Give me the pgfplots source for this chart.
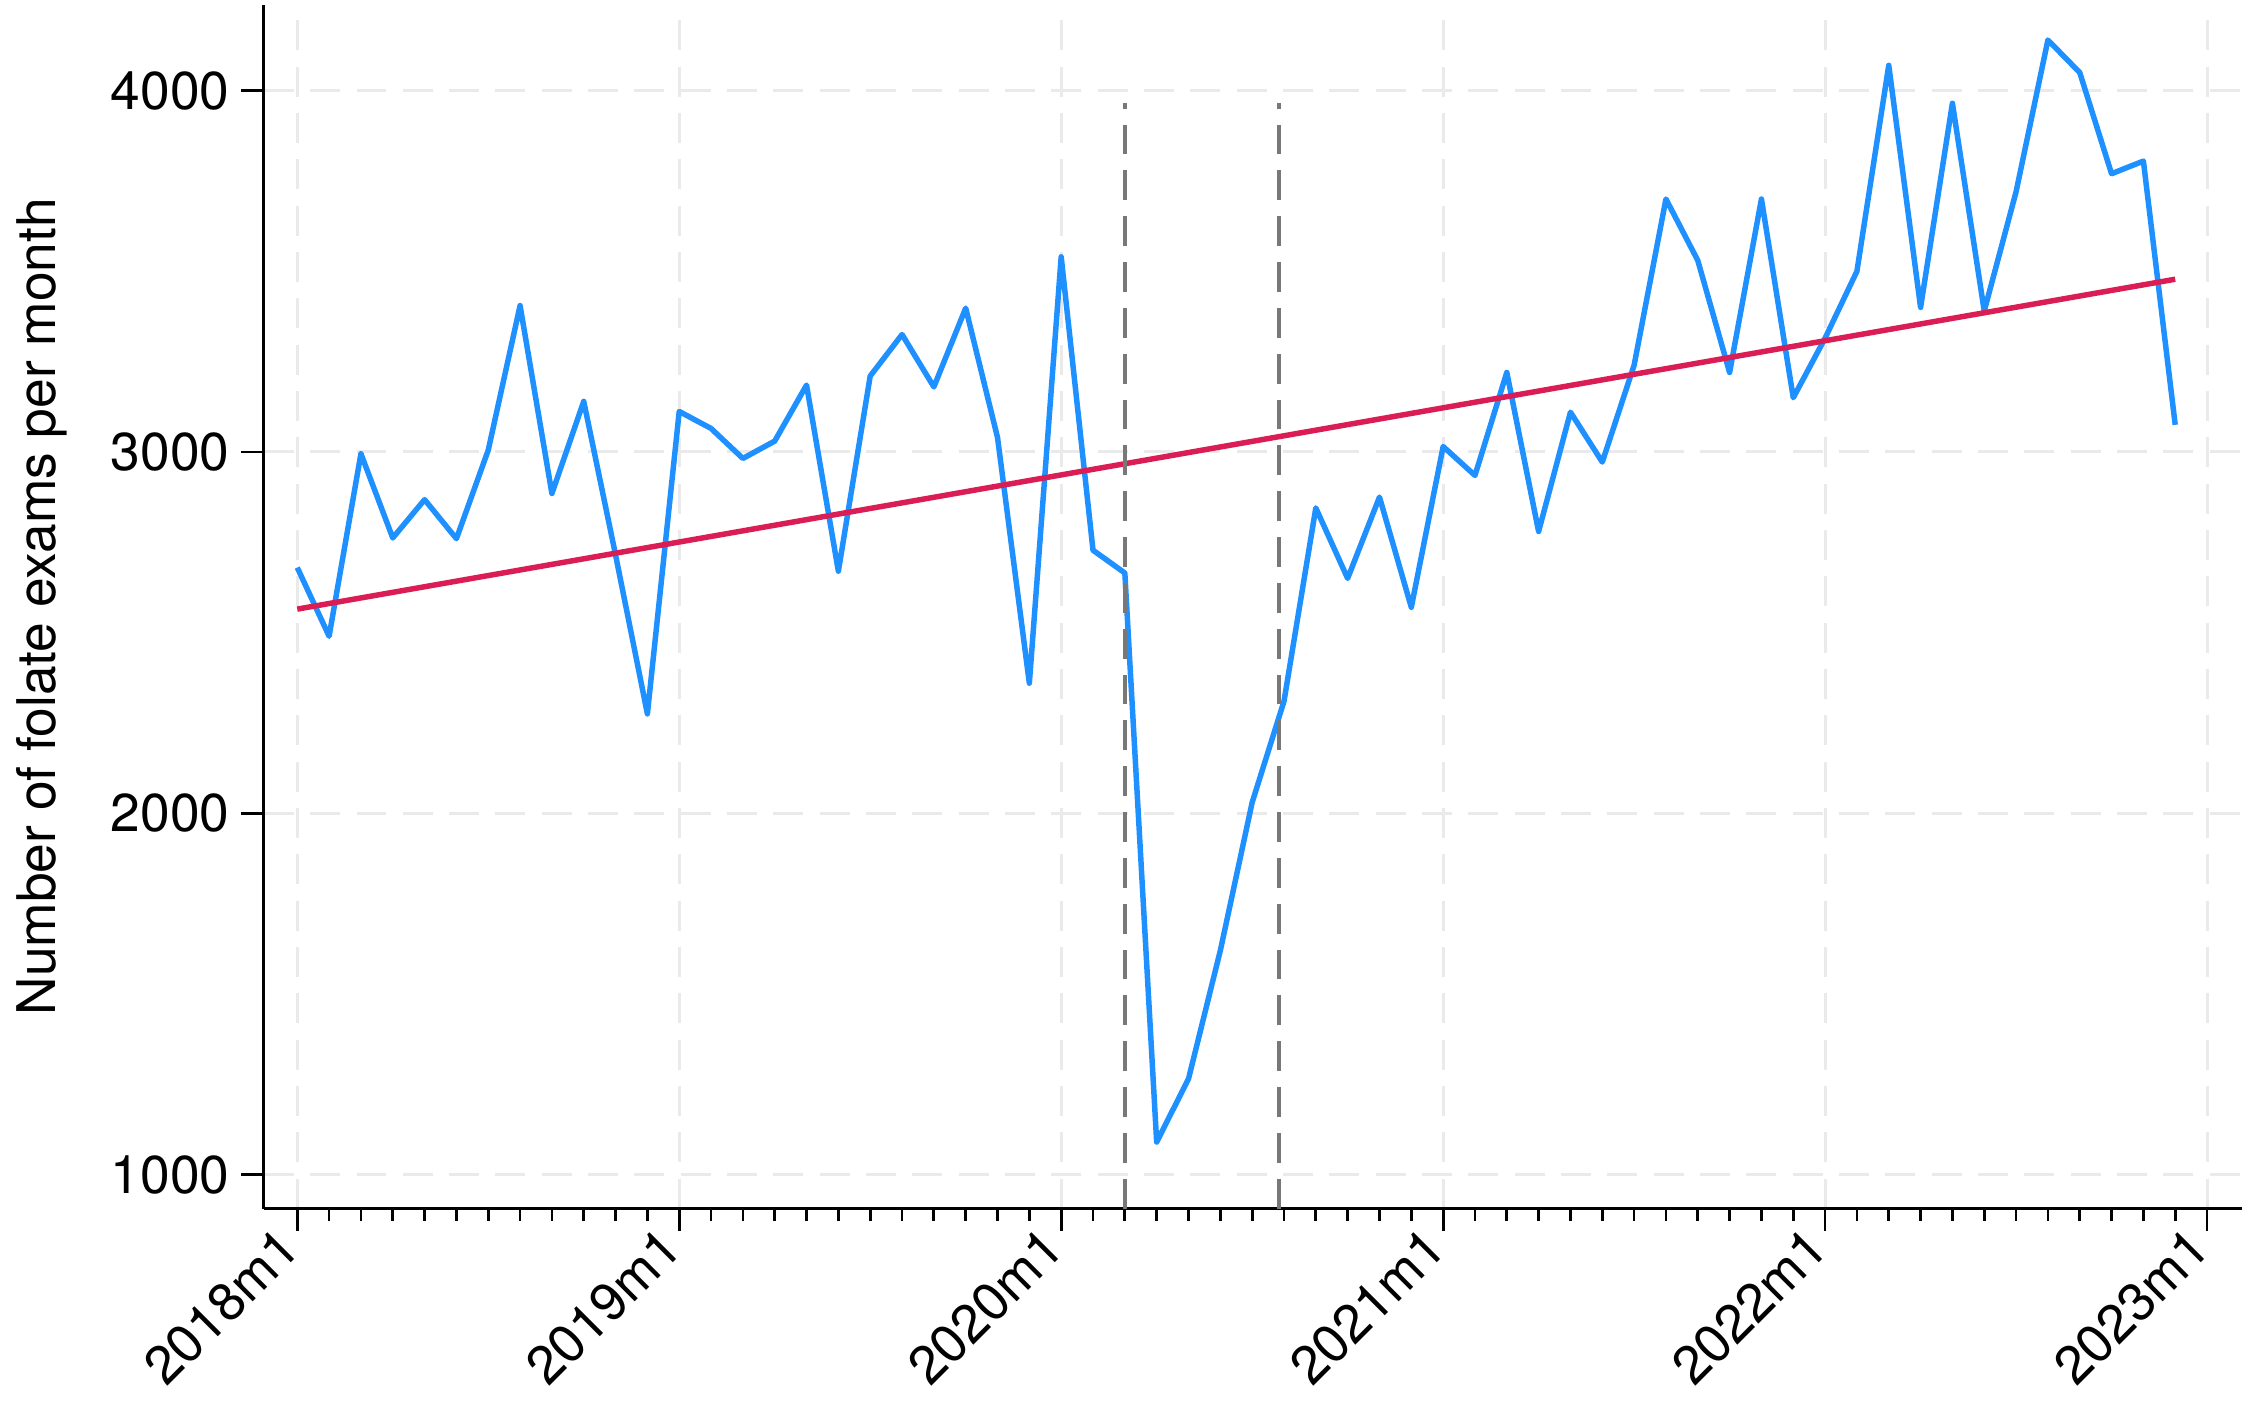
\documentclass[border=0pt]{standalone}
\usepackage{pgfplots}
\pgfplotsset{compat=1.18}
\usepackage{fontspec}
\setmainfont{TeX Gyre Heros}
\definecolor{sblue}{RGB}{30,144,255}
\definecolor{sred}{RGB}{218,30,85}
\definecolor{gridc}{RGB}{234,234,234}
\definecolor{vlinec}{RGB}{120,120,120}
\begin{document}
\begin{tikzpicture}
\begin{axis}[
  width=397.1pt, height=241.6pt, scale only axis,
  xmin=-1.05, xmax=61.1, ymin=906, ymax=4237,
  axis lines=left,
  axis line style={-, line width=0.55pt, black},
  xtick={0,12,24,36,48,60},
  xticklabels={2018m1,2019m1,2020m1,2021m1,2022m1,2023m1},
  minor x tick num=11,
  ytick={1000,2000,3000,4000},
  yticklabels={1000,2000,3000,4000},
  tick align=outside,
  major tick length=4.5pt, minor tick length=2.4pt,
  every tick/.style={black, line width=0.55pt},
  ymajorgrids, xmajorgrids,
  major grid style={gridc, line width=0.6pt, dash pattern=on 6pt off 3.3pt},
  tick label style={font=\fontsize{10.7}{12}\selectfont},
  yticklabel style={inner sep=2.2pt},
  xticklabel style={rotate=45, anchor=east, inner sep=2pt},
  ylabel={Number of folate exams per month},
  every axis y label/.style={at={(axis description cs:0,0.5)}, xshift=-41.8pt, rotate=90, anchor=base, font=\fontsize{10.7}{12}\selectfont},
]
\addplot[sblue, line width=1.1pt, line join=round] coordinates {
(0,2680) (1,2490) (2,2995) (3,2762) (4,2868) (5,2760) (6,3005) (7,3405) (8,2885) (9,3140)
(10,2715) (11,2275) (12,3112) (13,3065) (14,2982) (15,3030) (16,3185) (17,2670) (18,3210) (19,3325)
(20,3180) (21,3398) (22,3040) (23,2360) (24,3540) (25,2728) (26,2665) (27,1090) (28,1265) (29,1620)
(30,2030) (31,2310) (32,2845) (33,2650) (34,2875) (35,2570) (36,3015) (37,2935) (38,3220) (39,2780)
(40,3110) (41,2972) (42,3240) (43,3700) (44,3530) (45,3220) (46,3700) (47,3150) (48,3315) (49,3500)
(50,4070) (51,3400) (52,3965) (53,3390) (54,3720) (55,4140) (56,4050) (57,3770) (58,3805) (59,3075)
};
\addplot[sred, line width=1.1pt] coordinates {(0,2565) (59,3478)};
\addplot[vlinec, line width=0.8pt, dash pattern=on 6pt off 3.2pt] coordinates {(26,906) (26,3965)};
\addplot[vlinec, line width=0.8pt, dash pattern=on 6pt off 3.2pt] coordinates {(30.85,906) (30.85,3965)};
\end{axis}
\path ([xshift=-51.3pt,yshift=-39.6pt]current axis.south west) rectangle ([xshift=1.6pt,yshift=1pt]current axis.north east);
\end{tikzpicture}
\end{document}
